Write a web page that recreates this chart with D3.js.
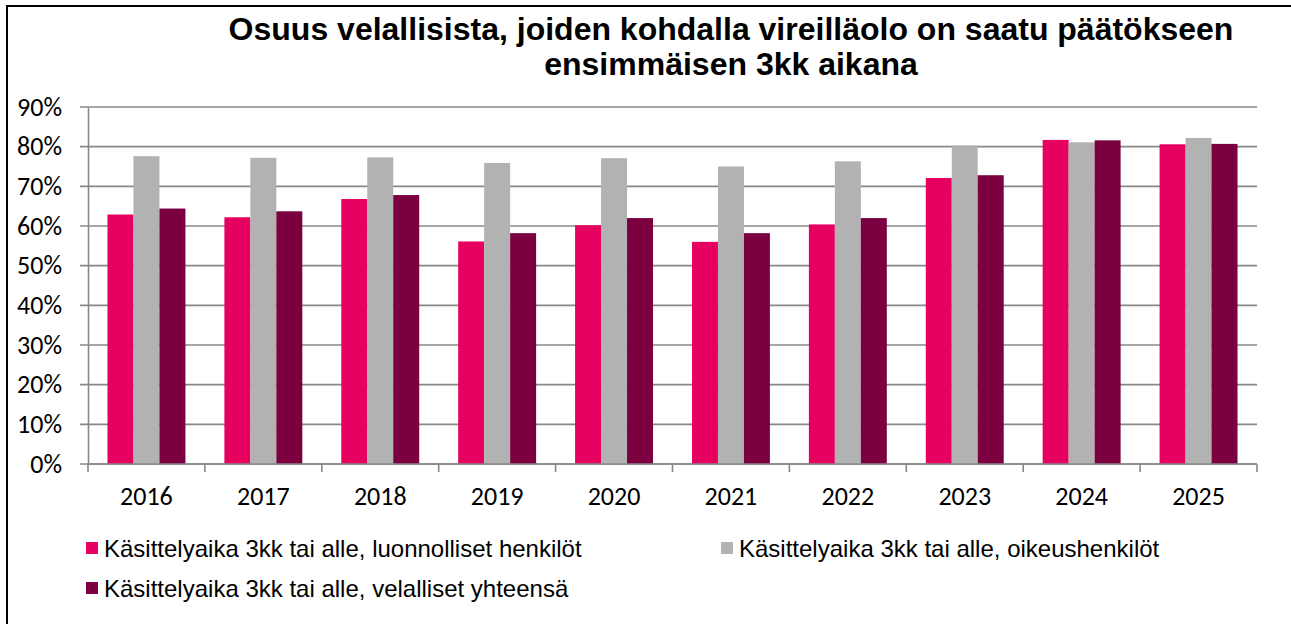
<!DOCTYPE html>
<html><head><meta charset="utf-8">
<script src="https://cdn.jsdelivr.net/npm/d3@7"></script>
<style>
body{margin:0;background:#fff;}
svg{display:block;}
</style></head>
<body>
<svg id="c" width="1291" height="624"></svg>
<script>
const years = ["2016","2017","2018","2019","2020","2021","2022","2023","2024","2025"];
const seriesNames = [
  "Käsittelyaika 3kk tai alle, luonnolliset henkilöt",
  "Käsittelyaika 3kk tai alle, oikeushenkilöt",
  "Käsittelyaika 3kk tai alle, velalliset yhteensä"
];
const luonnolliset = [0.629,0.622,0.668,0.561,0.602,0.560,0.604,0.721,0.817,0.806];
const oikeushenkilot = [0.776,0.772,0.773,0.759,0.771,0.750,0.763,0.803,0.811,0.822];
const yhteensa = [0.644,0.637,0.678,0.582,0.620,0.582,0.620,0.728,0.816,0.807];
const yTicks = [0,0.1,0.2,0.3,0.4,0.5,0.6,0.7,0.8,0.9];
const colors = ["#E6005F","#B2B2B2","#7A003F"];
const titleLines = ["Osuus velallisista, joiden kohdalla vireilläolo on saatu päätökseen","ensimmäisen 3kk aikana"];

const series = [luonnolliset, oikeushenkilot, yhteensa];
const svg = d3.select("#c");

// border
svg.append("line").attr("x1",7).attr("x2",1291).attr("y1",6).attr("y2",6).attr("stroke","#000").attr("stroke-width",2);
svg.append("line").attr("x1",7).attr("x2",7).attr("y1",5).attr("y2",624).attr("stroke","#000").attr("stroke-width",2);

// title
svg.selectAll("text.title").data(titleLines).join("text").attr("class","title")
  .attr("x",731).attr("y",(d,i)=>40+i*35).attr("text-anchor","middle")
  .attr("font-family","Liberation Sans, Arial, sans-serif").attr("font-weight","bold").attr("font-size",32)
  .text(d=>d);

const pLeft=88, pRight=1257, pTop=107, pBottom=464;
const y = d3.scaleLinear().domain([0,0.9]).range([pBottom, pTop]);
const x = d3.scaleBand().domain(years).range([pLeft,pRight]).paddingInner(1/3).paddingOuter(1/6);
const xs = d3.scaleBand().domain(d3.range(3)).range([0,x.bandwidth()]);

// gridlines
svg.append("g").selectAll("line").data(yTicks).join("line")
  .attr("x1",80).attr("x2",pRight).attr("y1",d=>y(d)).attr("y2",d=>y(d))
  .attr("stroke","#888").attr("stroke-width",1.6);

// y axis
const yAxis = svg.append("g").attr("transform",`translate(${pLeft},0)`)
  .call(d3.axisLeft(y).tickValues(yTicks).tickFormat(d3.format(".0%")).tickSize(0).tickPadding(26));
yAxis.select(".domain").attr("stroke","#888").attr("stroke-width",1.6);
yAxis.selectAll("text").attr("font-family","Carlito, Lato, sans-serif").attr("font-size",26).attr("fill","#000");

// bars
const groups = svg.append("g").selectAll("g").data(years).join("g")
  .attr("transform",d=>`translate(${x(d)},0)`);
groups.selectAll("rect").data((d,i)=>series.map((s,j)=>({j,v:s[i]}))).join("rect")
  .attr("x",d=>xs(d.j)).attr("width",xs.bandwidth())
  .attr("y",d=>y(d.v)).attr("height",d=>y(0)-y(d.v))
  .attr("fill",d=>colors[d.j]);

// x axis
const step = x.step();
const bounds = years.map(d=>x(d)-step*(1/6)).concat([pRight]);
svg.append("line").attr("x1",pLeft).attr("x2",pRight).attr("y1",y(0)).attr("y2",y(0)).attr("stroke","#888").attr("stroke-width",1.6);
svg.append("g").selectAll("line").data(bounds).join("line")
  .attr("x1",d=>d).attr("x2",d=>d).attr("y1",y(0)).attr("y2",y(0)+8).attr("stroke","#888").attr("stroke-width",1.6);
const xAxis = svg.append("g").attr("transform",`translate(0,${pBottom})`)
  .call(d3.axisBottom(x).tickSize(0).tickPadding(22.5));
xAxis.select(".domain").remove();
xAxis.selectAll("text").attr("font-family","Carlito, Lato, sans-serif").attr("font-size",26).attr("fill","#000");

// legend
const legPos = [[86,542],[721,542],[86,582]];
const leg = svg.append("g").selectAll("g").data(seriesNames).join("g")
  .attr("transform",(d,i)=>`translate(${legPos[i][0]},${legPos[i][1]})`);
leg.append("rect").attr("width",12).attr("height",12).attr("fill",(d,i)=>colors[i]);
leg.append("text").attr("x",18).attr("y",14.5)
  .attr("font-family","Liberation Sans, Arial, sans-serif").attr("font-size",24).attr("fill","#000")
  .text(d=>d);
</script>
</body></html>
